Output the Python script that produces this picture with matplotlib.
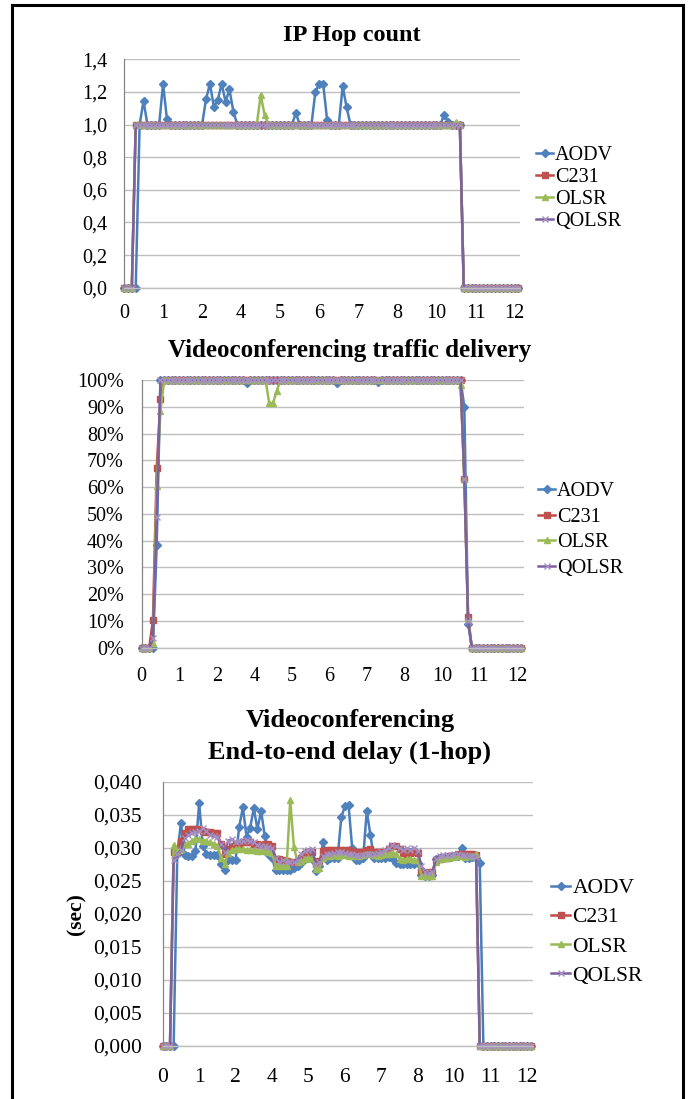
import matplotlib
matplotlib.use('Agg')
import matplotlib.pyplot as plt
from matplotlib.lines import Line2D
import numpy as np

plt.rcParams['font.family'] = ['Liberation Serif', 'DejaVu Serif']

# ---------------- data ----------------
series_names = ['AODV', 'C231', 'OLSR', 'QOLSR']
x_tick_labels = ['0', '1', '2', '4', '5', '6', '7', '8', '10', '11', '12']
x_tick_index = [0, 10, 20, 30, 40, 50, 60, 70, 80, 90, 100]

hop_yticks = [0.0, 0.2, 0.4, 0.6, 0.8, 1.0, 1.2, 1.4]
hop_ylabels = ['0,0', '0,2', '0,4', '0,6', '0,8', '1,0', '1,2', '1,4']
del_yticks = [0, 10, 20, 30, 40, 50, 60, 70, 80, 90, 100]
del_ylabels = ['0%', '10%', '20%', '30%', '40%', '50%', '60%', '70%', '80%', '90%', '100%']
dly_yticks = [0.0, 0.005, 0.010, 0.015, 0.020, 0.025, 0.030, 0.035, 0.040]
dly_ylabels = ['0,000', '0,005', '0,010', '0,015', '0,020', '0,025', '0,030', '0,035', '0,040']

# IP hop count
hop_aodv = [0, 0, 0, 0, 1, 1.145, 1, 1, 1, 1,
            1.25, 1.033, 1, 1, 1, 1, 1, 1, 1, 1,
            1, 1.155, 1.25, 1.11, 1.15, 1.25, 1.14, 1.215, 1.08, 1,
            1, 1, 1, 1, 1, 1, 1, 1, 1, 1,
            1, 1, 1, 1, 1.07, 1, 1, 1, 1, 1.2,
            1.25, 1.25, 1.03, 1, 1, 1, 1.235, 1.105, 1, 1,
            1, 1, 1, 1, 1, 1, 1, 1, 1, 1,
            1, 1, 1, 1, 1, 1, 1, 1, 1, 1,
            1, 1, 1.06, 1.015, 1, 1, 1, 0, 0, 0,
            0, 0, 0, 0, 0, 0, 0, 0, 0, 0,
            0, 0]
hop_c231 = [0, 0, 0, 1, 1, 1, 1, 1, 1, 1,
            1, 1, 1, 1, 1, 1, 1, 1, 1, 1,
            1, 1, 1, 1, 1, 1, 1, 1, 1, 1,
            1, 1, 1, 1, 1, 1, 1, 1, 1, 1,
            1, 1, 1, 1, 1, 1, 1, 1, 1, 1,
            1, 1, 1, 1, 1, 1, 1, 1, 1, 1,
            1, 1, 1, 1, 1, 1, 1, 1, 1, 1,
            1, 1, 1, 1, 1, 1, 1, 1, 1, 1,
            1, 1, 1, 1, 1, 1, 1, 0, 0, 0,
            0, 0, 0, 0, 0, 0, 0, 0, 0, 0,
            0, 0]
hop_olsr = [0, 0, 0, 1, 1, 1, 1, 1, 1, 1,
            1, 1, 1, 1, 1, 1, 1, 1, 1, 1,
            1, 1, 1, 1, 1, 1, 1, 1, 1, 1,
            1, 1, 1, 1, 1, 1.18, 1.06, 1, 1, 1,
            1, 1, 1, 1, 1, 1, 1, 1, 1, 1,
            1, 1, 1, 1, 1, 1, 1, 1, 1, 1,
            1, 1, 1, 1, 1, 1, 1, 1, 1, 1,
            1, 1, 1, 1, 1, 1, 1, 1, 1, 1,
            1, 1, 1, 1, 1, 1.015, 1, 0, 0, 0,
            0, 0, 0, 0, 0, 0, 0, 0, 0, 0,
            0, 0]
hop_qolsr = [0, 0, 0, 1, 1, 1, 1, 1, 1, 1,
             1, 1, 1, 1, 1, 1, 1, 1, 1, 1,
             1, 1, 1, 1, 1, 1, 1, 1, 1, 1,
             1, 1, 1, 1, 1, 1, 1, 1, 1, 1,
             1, 1, 1, 1, 1, 1, 1, 1, 1, 1,
             1, 1, 1, 1, 1, 1, 1, 1, 1, 1,
             1, 1, 1, 1, 1, 1, 1, 1, 1, 1,
             1, 1, 1, 1, 1, 1, 1, 1, 1, 1,
             1, 1, 1, 1, 1, 1, 1, 0, 0, 0,
             0, 0, 0, 0, 0, 0, 0, 0, 0, 0,
             0, 0]

# Videoconferencing traffic delivery (%)
del_aodv = [0, 0, 0, 0, 38.4, 100, 100, 100, 100, 100,
            100, 100, 100, 100, 100, 100, 100, 100, 100, 100,
            100, 100, 100, 100, 100, 100, 100, 100, 99, 100,
            100, 100, 100, 100, 100, 100, 100, 100, 100, 100,
            100, 100, 100, 100, 100, 100, 100, 100, 100, 100,
            100, 100, 99, 100, 100, 100, 100, 100, 100, 100,
            100, 100, 100, 99.3, 100, 100, 100, 100, 100, 100,
            100, 100, 100, 100, 100, 100, 100, 100, 100, 100,
            100, 100, 100, 100, 100, 100, 89.8, 9, 0, 0,
            0, 0, 0, 0, 0, 0, 0, 0, 0, 0,
            0, 0]
del_c231 = [0, 0, 0, 10.2, 67, 92.8, 100, 100, 100, 100,
            100, 100, 100, 100, 100, 100, 100, 100, 100, 100,
            100, 100, 100, 100, 100, 100, 100, 100, 100, 100,
            100, 100, 100, 100, 100, 100, 100, 100, 100, 100,
            100, 100, 100, 100, 100, 100, 100, 100, 100, 100,
            100, 100, 100, 100, 100, 100, 100, 100, 100, 100,
            100, 100, 100, 100, 100, 100, 100, 100, 100, 100,
            100, 100, 100, 100, 100, 100, 100, 100, 100, 100,
            100, 100, 100, 100, 100, 100, 63, 11.3, 0, 0,
            0, 0, 0, 0, 0, 0, 0, 0, 0, 0,
            0, 0]
del_olsr = [0, 0, 0, 1.6, 60.5, 88.4, 100, 100, 100, 100,
            100, 100, 100, 100, 100, 100, 100, 100, 100, 100,
            100, 100, 100, 100, 100, 100, 100, 100, 100, 100,
            100, 100, 100, 100, 91.3, 91.3, 96, 100, 100, 100,
            100, 100, 100, 100, 100, 100, 100, 100, 100, 100,
            100, 100, 100, 100, 100, 100, 100, 100, 100, 100,
            100, 100, 100, 100, 100, 100, 100, 100, 100, 100,
            100, 100, 100, 100, 100, 100, 100, 100, 100, 100,
            100, 100, 100, 100, 100, 98, 63, 11, 0, 0,
            0, 0, 0, 0, 0, 0, 0, 0, 0, 0,
            0, 0]
del_qolsr = [0, 0, 0, 3.5, 49, 100, 100, 100, 100, 100,
             100, 100, 100, 100, 100, 100, 100, 100, 100, 100,
             100, 100, 100, 100, 100, 100, 100, 100, 100, 100,
             100, 100, 100, 100, 100, 100, 100, 100, 100, 100,
             100, 100, 100, 100, 100, 100, 100, 100, 100, 100,
             100, 100, 100, 100, 100, 100, 100, 100, 100, 100,
             100, 100, 100, 100, 100, 100, 100, 100, 100, 100,
             100, 100, 100, 100, 100, 100, 100, 100, 100, 100,
             100, 100, 100, 100, 100, 100, 63, 10, 0, 0,
             0, 0, 0, 0, 0, 0, 0, 0, 0, 0,
             0, 0]

# Videoconferencing end-to-end delay (sec)
dly_aodv = [0, 0, 0, 0, 0.0290, 0.0338, 0.0289, 0.0287, 0.0288, 0.0295,
            0.0368, 0.0303, 0.0290, 0.0289, 0.0289, 0.0289, 0.0276, 0.0266, 0.0281, 0.0282,
            0.0282, 0.0332, 0.0361, 0.0317, 0.0330, 0.0360, 0.0328, 0.0356, 0.0318, 0.0290,
            0.0285, 0.0266, 0.0266, 0.0266, 0.0266, 0.0267, 0.0269, 0.0272, 0.0277, 0.0283,
            0.0284, 0.0283, 0.0265, 0.0272, 0.0309, 0.0282, 0.0284, 0.0285, 0.0285, 0.0346,
            0.0363, 0.0365, 0.0299, 0.0282, 0.0282, 0.0284, 0.0356, 0.0319, 0.0284, 0.0285,
            0.0284, 0.0285, 0.0286, 0.0285, 0.0277, 0.0276, 0.0275, 0.0276, 0.0275, 0.0276,
            0.0277, 0.0259, 0.0258, 0.0258, 0.0259, 0.0283, 0.0284, 0.0285, 0.0286, 0.0286,
            0.0287, 0.0287, 0.0300, 0.0285, 0.0284, 0.0286, 0.0285, 0.0277, 0, 0,
            0, 0, 0, 0, 0, 0, 0, 0, 0, 0,
            0, 0]
dly_c231 = [0, 0, 0, 0.0293, 0.0293, 0.0310, 0.0323, 0.0328, 0.0329, 0.0329,
            0.0328, 0.0326, 0.0324, 0.0324, 0.0323, 0.0323, 0.0305, 0.0290, 0.0298, 0.0302,
            0.0305, 0.0306, 0.0308, 0.0309, 0.0309, 0.0305, 0.0305, 0.0304, 0.0305, 0.0305,
            0.0303, 0.0283, 0.0283, 0.0281, 0.0280, 0.0279, 0.0279, 0.0278, 0.0285, 0.0290,
            0.0293, 0.0294, 0.0275, 0.0280, 0.0295, 0.0296, 0.0296, 0.0296, 0.0296, 0.0296,
            0.0296, 0.0296, 0.0294, 0.0294, 0.0294, 0.0294, 0.0296, 0.0298, 0.0294, 0.0294,
            0.0294, 0.0294, 0.0298, 0.0302, 0.0303, 0.0298, 0.0292, 0.0291, 0.0292, 0.0293,
            0.0292, 0.0265, 0.0262, 0.0263, 0.0263, 0.0282, 0.0283, 0.0284, 0.0285, 0.0287,
            0.0288, 0.0290, 0.0291, 0.0291, 0.0291, 0.0290, 0.0289, 0, 0, 0,
            0, 0, 0, 0, 0, 0, 0, 0, 0, 0,
            0, 0]
dly_olsr = [0, 0, 0, 0.0304, 0.0295, 0.0298, 0.0305, 0.0306, 0.0311, 0.0313,
            0.0313, 0.0311, 0.0310, 0.0308, 0.0306, 0.0303, 0.0285, 0.0275, 0.0292, 0.0297,
            0.0298, 0.0298, 0.0298, 0.0297, 0.0296, 0.0296, 0.0295, 0.0295, 0.0296, 0.0294,
            0.0292, 0.0272, 0.0273, 0.0273, 0.0272, 0.0372, 0.0301, 0.0279, 0.0280, 0.0283,
            0.0284, 0.0285, 0.0268, 0.0270, 0.0285, 0.0288, 0.0288, 0.0289, 0.0288, 0.0289,
            0.0289, 0.0288, 0.0287, 0.0287, 0.0288, 0.0289, 0.0290, 0.0290, 0.0289, 0.0288,
            0.0289, 0.0290, 0.0291, 0.0293, 0.0290, 0.0283, 0.0282, 0.0283, 0.0283, 0.0282,
            0.0282, 0.0258, 0.0258, 0.0257, 0.0257, 0.0279, 0.0283, 0.0284, 0.0285, 0.0286,
            0.0286, 0.0287, 0.0287, 0.0286, 0.0287, 0.0288, 0.0291, 0, 0, 0,
            0, 0, 0, 0, 0, 0, 0, 0, 0, 0,
            0, 0]
dly_qolsr = [0, 0, 0, 0.0282, 0.0290, 0.0296, 0.0315, 0.0320, 0.0323, 0.0324,
             0.0325, 0.0330, 0.0325, 0.0320, 0.0318, 0.0316, 0.0305, 0.0294, 0.0311, 0.0313,
             0.0308, 0.0310, 0.0311, 0.0312, 0.0311, 0.0308, 0.0304, 0.0302, 0.0302, 0.0301,
             0.0299, 0.0285, 0.0279, 0.0281, 0.0279, 0.0278, 0.0279, 0.0282, 0.0290, 0.0295,
             0.0297, 0.0298, 0.0275, 0.0278, 0.0288, 0.0290, 0.0291, 0.0292, 0.0293, 0.0293,
             0.0292, 0.0291, 0.0290, 0.0289, 0.0288, 0.0289, 0.0290, 0.0291, 0.0290, 0.0292,
             0.0294, 0.0296, 0.0300, 0.0304, 0.0302, 0.0299, 0.0297, 0.0299, 0.0297, 0.0300,
             0.0295, 0.0272, 0.0264, 0.0262, 0.0263, 0.0283, 0.0288, 0.0289, 0.0289, 0.0289,
             0.0290, 0.0290, 0.0289, 0.0289, 0.0288, 0.0287, 0.0286, 0, 0, 0,
             0, 0, 0, 0, 0, 0, 0, 0, 0, 0,
             0, 0]

# ---------------- styling ----------------
W, H = 689, 1099
fig = plt.figure(figsize=(W / 100, H / 100), dpi=100)

styles = {
    'AODV': dict(color='#4A7EBB', marker='D', ms=3.8, mfc='#4F81BD', mec='#4F81BD'),
    'C231': dict(color='#BE4B48', marker='s', ms=4.4, mfc='#C0504D', mec='#C0504D'),
    'OLSR': dict(color='#98B954', marker='^', ms=5.0, mfc='#9BBB59', mec='#9BBB59'),
    'QOLSR': dict(color='#7D60A0', marker='x', ms=4.8, mfc='#B3A2C7', mec='#A48FC0', mew=1.0),
}
GRID = '#BFBFBF'
AXC = '#868686'


def px_axes(l, t, r, b):
    return fig.add_axes([l / W, 1 - b / H, (r - l) / W, (b - t) / H])


def make_chart(ax, data, yticks, ylabels, ylim, xmax, fs, ypad, xpad,
               leg_x, leg_y, leg_space, leg_hl):
    idx = np.arange(len(data[0]))
    handles = []
    for name, vals in zip(series_names, data):
        st = styles[name]
        h, = ax.plot(idx, vals, lw=1.8, label=name, clip_on=False, **st)
        handles.append(h)
    ax.set_xlim(0, xmax)
    ax.set_ylim(*ylim)
    ax.set_yticks(yticks)
    ax.set_yticklabels(ylabels)
    ax.set_xticks(x_tick_index)
    ax.set_xticklabels(x_tick_labels)
    ax.tick_params(axis='both', length=0, labelsize=fs, colors='black')
    ax.tick_params(axis='y', pad=ypad)
    ax.tick_params(axis='x', pad=xpad)
    ax.yaxis.grid(True, color=GRID, lw=1.0)
    ax.set_axisbelow(True)
    for s in ['top', 'right']:
        ax.spines[s].set_visible(False)
    ax.spines['left'].set_color(AXC)
    ax.spines['left'].set_linewidth(0.9)
    ax.spines['bottom'].set_color(GRID)
    ax.spines['bottom'].set_linewidth(1.0)
    ax.legend(handles=handles, loc='center left',
              bbox_to_anchor=(leg_x / W, 1 - leg_y / H),
              bbox_transform=fig.transFigure, frameon=False, fontsize=fs,
              handlelength=leg_hl, handletextpad=0.1, labelspacing=leg_space,
              borderpad=0, borderaxespad=0)


# Chart 1
ax1 = px_axes(124, 59.3, 520, 287.7)
make_chart(ax1, [hop_aodv, hop_c231, hop_olsr, hop_qolsr], hop_yticks,
           hop_ylabels, (0, 1.4), 101.4, 14.5, 12, 12, 536, 188.5, 0.15, 0.85)
fig.text(352 / W, 1 - 40.7 / H, 'IP Hop count', ha='center', va='baseline',
         fontsize=17.5, fontweight='bold')

# Chart 2
ax2 = px_axes(141.7, 380, 524, 647.7)
make_chart(ax2, [del_aodv, del_c231, del_olsr, del_qolsr], del_yticks,
           del_ylabels, (0, 100), 101.9, 14.5, 13, 14, 538, 530, 0.33, 0.85)
fig.text(350 / W, 1 - 357.3 / H, 'Videoconferencing traffic delivery',
         ha='center', va='baseline', fontsize=18, fontweight='bold')

# Chart 3
ax3 = px_axes(162.7, 781.7, 533.3, 1046)
make_chart(ax3, [dly_aodv, dly_c231, dly_olsr, dly_qolsr], dly_yticks,
           dly_ylabels, (0, 0.04), 101.7, 15.5, 15, 16, 551, 932, 0.42, 0.9)
fig.text(350 / W, 1 - 726.7 / H, 'Videoconferencing', ha='center',
         va='baseline', fontsize=19, fontweight='bold')
fig.text(350 / W, 1 - 758.3 / H, 'End-to-end delay (1-hop)', ha='center',
         va='baseline', fontsize=19, fontweight='bold')
fig.text(76 / W, 1 - 914 / H, '(sec)', ha='center', va='center',
         rotation=90, fontsize=15.5, fontweight='bold')

# page frame
fr = dict(color='black', lw=2.2, transform=fig.transFigure)
fig.add_artist(Line2D([12 / W, 12 / W], [0, 1 - 5 / H], **fr))
fig.add_artist(Line2D([683 / W, 683 / W], [0, 1 - 5 / H], **fr))
fig.add_artist(Line2D([12 / W, 683 / W], [1 - 5 / H, 1 - 5 / H], **fr))

fig.savefig('out.png', dpi=100)
